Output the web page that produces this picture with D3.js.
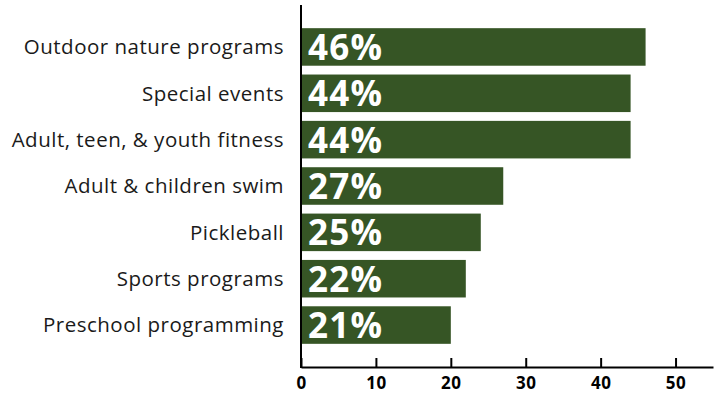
<!DOCTYPE html>
<html><head><meta charset="utf-8">
<script src="https://cdn.jsdelivr.net/npm/d3@7"></script>
<style>body{margin:0;background:#fff;overflow:hidden}svg{display:block}</style>
</head><body>
<script>
const categories = ["Outdoor nature programs","Special events","Adult, teen, & youth fitness","Adult & children swim","Pickleball","Sports programs","Preschool programming"];
const values = [46, 44, 44, 27, 24, 22, 20];
const valueLabels = ["46%","44%","44%","27%","25%","22%","21%"];
const xTicks = [0, 10, 20, 30, 40, 50];

const W = 720, H = 394;
const svg = d3.select("body").append("svg").attr("width", W).attr("height", H);
const x = d3.scaleLinear().domain([0, 55]).range([301, 713]);
const y = d3.scaleBand().domain(categories).range([5, 367]).paddingInner(0.19).paddingOuter(0.5);

svg.selectAll("rect.bar").data(values).join("rect")
  .attr("class","bar")
  .attr("x", x(0)).attr("y", (d,i)=>y(categories[i]))
  .attr("width", d=>x(d)-x(0)).attr("height", y.bandwidth())
  .attr("fill", "#365525");

svg.selectAll("text.val").data(valueLabels).join("text")
  .attr("class","val")
  .attr("x", x(0)+7).attr("y", (d,i)=>y(categories[i])+y.bandwidth()/2+13)
  .attr("fill","#fff").attr("font-family","'Open Sans', sans-serif")
  .attr("font-weight","700").attr("font-size",35).attr("letter-spacing",1.3)
  .text(d=>d);

svg.selectAll("text.cat").data(categories).join("text")
  .attr("class","cat")
  .attr("x", 284).attr("y", d=>y(d)+y.bandwidth()/2)
  .attr("dy","0.36em").attr("text-anchor","end")
  .attr("fill","#1a1a1a").attr("font-family","'Open Sans', sans-serif")
  .attr("font-size",20.5).attr("letter-spacing",0.5)
  .text(d=>d);

// vertical axis line
svg.append("line").attr("x1",x(0)).attr("x2",x(0)).attr("y1",5).attr("y2",368)
  .attr("stroke","#000").attr("stroke-width",2);

const xAxis = d3.axisBottom(x).tickValues(xTicks).tickSizeInner(-9).tickSizeOuter(0).tickPadding(10);
const gx = svg.append("g").attr("transform","translate(0,367)").call(xAxis);
gx.select(".domain").attr("stroke","#000").attr("stroke-width",2);
gx.selectAll(".tick line").attr("stroke","#000").attr("stroke-width",2);
gx.selectAll(".tick text").attr("fill","#000").attr("font-family","'Open Sans', sans-serif")
  .attr("font-weight","700").attr("font-size",17).attr("letter-spacing",0.5);
</script>
</body></html>
